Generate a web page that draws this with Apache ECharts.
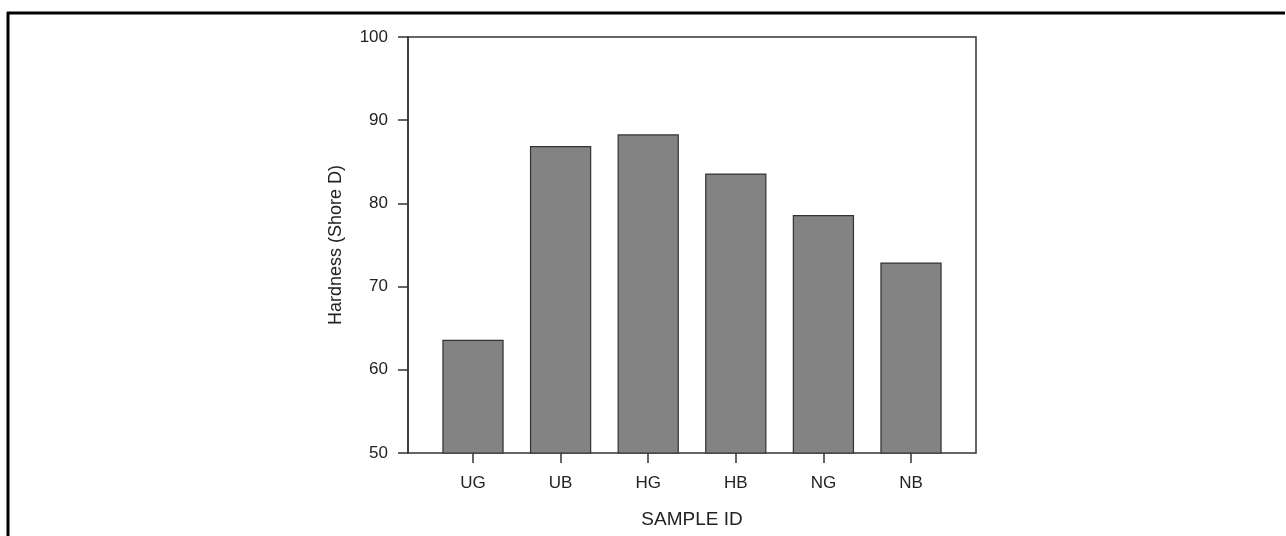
<!DOCTYPE html>
<html>
<head>
<meta charset="utf-8">
<script src="https://cdn.jsdelivr.net/npm/echarts@6/dist/echarts.min.js"></script>
<style>
html,body{margin:0;padding:0;background:#fff;}
#c{width:1286px;height:536px;}
</style>
</head>
<body>
<div id="c"></div>
<script>
const categories = ['UG', 'UB', 'HG', 'HB', 'NG', 'NB'];
const hardness = [63.6, 86.9, 88.3, 83.6, 78.6, 72.9];
const yTicks = [50, 60, 70, 80, 90, 100];

const font = 'Liberation Sans, Arial, Helvetica, sans-serif';
const chart = echarts.init(document.getElementById('c'), null, {renderer: 'canvas'});
chart.setOption({
  animation: false,
  backgroundColor: '#fff',
  graphic: [
    {type: 'line', shape: {x1: 7, y1: 13, x2: 1285, y2: 13}, style: {stroke: '#000', lineWidth: 3}},
    {type: 'line', shape: {x1: 8, y1: 12, x2: 8, y2: 536}, style: {stroke: '#000', lineWidth: 3}}
  ],
  grid: [
    {left: 408, top: 37, width: 568, height: 416, show: true, borderColor: '#333', borderWidth: 1.5, backgroundColor: 'transparent'},
    {left: 429.2, top: 37, width: 525.6, height: 416}
  ],
  xAxis: [
    {gridIndex: 0, type: 'value', min: 0, max: 1, show: true,
     axisLine: {show: false}, axisTick: {show: false}, axisLabel: {show: false}, splitLine: {show: false},
     name: 'SAMPLE ID', nameLocation: 'middle', nameGap: 57,
     nameTextStyle: {fontFamily: font, fontSize: 19, color: '#222'}},
    {gridIndex: 1, type: 'category', data: categories, boundaryGap: true,
     axisLine: {show: false},
     axisTick: {show: true, alignWithLabel: true, length: 10, lineStyle: {color: '#333', width: 1.5}},
     axisLabel: {fontFamily: font, fontSize: 17, color: '#222', margin: 22},
     splitLine: {show: false}}
  ],
  yAxis: [
    {gridIndex: 0, type: 'value', min: 50, max: 100, interval: 10,
     axisLine: {show: true, lineStyle: {color: '#333', width: 1.5}},
     axisTick: {show: true, length: 10, lineStyle: {color: '#333', width: 1.5}},
     axisLabel: {fontFamily: font, fontSize: 17, color: '#222', margin: 20,
       formatter: v => yTicks.includes(v) ? String(v) : ''},
     splitLine: {show: false},
     name: 'Hardness (Shore D)', nameLocation: 'middle', nameGap: 63,
     nameTextStyle: {fontFamily: font, fontSize: 18, color: '#222'}},
    {gridIndex: 1, type: 'value', min: 50, max: 100, show: false, splitLine: {show: false}}
  ],
  series: [{
    type: 'bar', xAxisIndex: 1, yAxisIndex: 1,
    data: hardness, barWidth: '70%',
    itemStyle: {color: '#838383', borderColor: '#333', borderWidth: 1.2}
  }]
});
</script>
</body>
</html>
